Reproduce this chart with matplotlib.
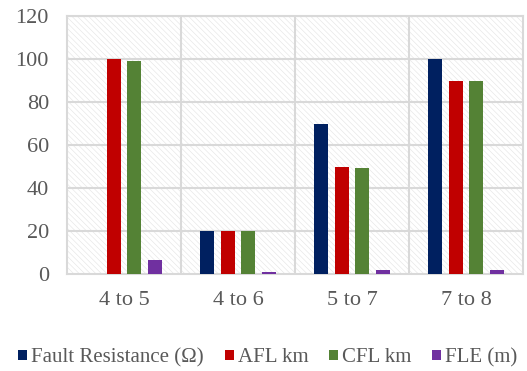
import numpy as np
import matplotlib.pyplot as plt
from matplotlib.patches import Rectangle

categories = ["4 to 5", "4 to 6", "5 to 7", "7 to 8"]
series_names = ["Fault Resistance (\u03a9)", "AFL km", "CFL km", "FLE (m)"]
fault_res = [0, 20, 70, 100]
afl = [100, 20, 50, 90]
cfl = [99, 20, 49.5, 90]
fle = [6.5, 1, 2, 2]
colors = ["#002060", "#c00000", "#548235", "#7030a0"]

plt.rcParams['font.family'] = ['Liberation Serif', 'DejaVu Serif']
plt.rcParams['hatch.linewidth'] = 0.4
text_color = "#595959"
grid_color = "#d9d9d9"

fig = plt.figure(figsize=(5.27, 3.71), dpi=100)
ax = fig.add_axes([67 / 527, 1 - 274 / 371, 456 / 527, 258 / 371])

x = np.arange(len(categories))
width = 0.125
step = 0.182
all_series = [fault_res, afl, cfl, fle]
for i, (vals, name, c) in enumerate(zip(all_series, series_names, colors)):
    ax.bar(x + (i - 1.5) * step, vals, width, color=c, label=name, zorder=3)

ax.set_xlim(-0.5, len(categories) - 0.5)
ax.set_ylim(0, 120)
ax.set_yticks(range(0, 121, 20))
ax.set_xticks(x)
ax.set_xticklabels(categories)

# faint hatched background
bg = Rectangle((0, 0), 1, 1, transform=ax.transAxes, facecolor="white",
               edgecolor="#e3e3e3", hatch="\\\\\\\\\\\\", linewidth=0, zorder=0)
ax.add_patch(bg)

for yv in range(20, 121, 20):
    ax.axhline(yv, color=grid_color, linewidth=1.5, zorder=1)
for xv in np.arange(0.5, len(categories) - 0.5, 1):
    ax.axvline(xv, color=grid_color, linewidth=1.5, zorder=1)

for s in ax.spines.values():
    s.set_color(grid_color)
    s.set_linewidth(1.5)

ax.tick_params(axis='both', length=0, labelsize=16, colors=text_color)
ax.tick_params(axis='y', pad=13)
ax.tick_params(axis='x', pad=12)

leg_x = (268 - 67) / 456
ax.legend(loc='center', bbox_to_anchor=(leg_x, -0.325), ncol=4, frameon=False,
          fontsize=15, labelcolor=text_color, handlelength=0.42, handleheight=0.42,
          handletextpad=0.2, columnspacing=1.0, borderaxespad=0, borderpad=0)

fig.savefig("out.png", dpi=100)
